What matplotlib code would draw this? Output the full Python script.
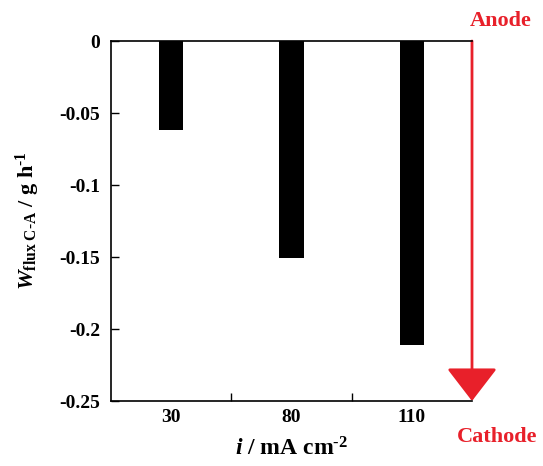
import matplotlib
matplotlib.use("Agg")
import matplotlib.pyplot as plt
from matplotlib.patches import FancyArrowPatch

plt.rcParams['font.family'] = ['Liberation Serif', 'DejaVu Serif']
plt.rcParams['font.weight'] = 'bold'
plt.rcParams['mathtext.fontset'] = 'custom'
plt.rcParams['mathtext.rm'] = 'Liberation Serif'
plt.rcParams['mathtext.it'] = 'Liberation Serif:italic'
plt.rcParams['mathtext.bf'] = 'Liberation Serif:bold'
plt.rcParams['mathtext.bfit'] = 'Liberation Serif:italic:bold'

categories = ['30', '80', '110']
values = [-0.062, -0.151, -0.211]
yticks = [0, -0.05, -0.1, -0.15, -0.2, -0.25]
ytick_labels = ['0', '-0.05', '-0.1', '-0.15', '-0.2', '-0.25']

fig = plt.figure(figsize=(5.43, 4.66), dpi=100)
ax = fig.add_axes([111/543, 1 - 401/466, (472 - 111)/543, 360/466])

x = list(range(len(categories)))
ax.bar(x, values, width=0.2, color='black')
ax.set_xlim(-0.5, 2.5)
ax.set_ylim(-0.25, 0)
ax.set_yticks(yticks)
ax.set_yticklabels(ytick_labels, fontsize=14, fontweight='bold')
ax.set_xticks(x)
ax.set_xticklabels(categories, fontsize=14, fontweight='bold')
ax.set_xticks([0.5, 1.5], minor=True)
ax.tick_params(axis='x', which='major', length=0, pad=6)
ax.tick_params(axis='x', which='minor', direction='in', length=6, width=1)
ax.tick_params(axis='y', direction='in', length=6, width=1, pad=8)
ax.spines['right'].set_visible(False)
for s in ['left', 'top', 'bottom']:
    ax.spines[s].set_linewidth(1.2)

ax.set_xlabel(r'$\mathbfit{i}$ / mA cm$^{\mathbf{\text{-}2}}$', fontsize=17, fontweight='bold', labelpad=8)
ax.set_ylabel(r'$\mathbfit{W}_{\mathrm{flux\ C\text{-}A}}$ / g h$^{\mathbf{\text{-}1}}$', fontsize=16, fontweight='bold', labelpad=12)

red = '#e8202a'
arrow = FancyArrowPatch((1.0, 1.0), (1.0, 0.0), transform=ax.transAxes,
                        arrowstyle='-|>,head_length=1.3,head_width=1.0', mutation_scale=16,
                        color=red, lw=2, clip_on=False, shrinkA=0, shrinkB=0)
ax.add_patch(arrow)
ax.text(1.08, 1.055, 'Anode', transform=ax.transAxes, color=red, fontsize=16,
        fontweight='bold', ha='center', va='center')
ax.text(1.07, -0.1, 'Cathode', transform=ax.transAxes, color=red, fontsize=16,
        fontweight='bold', ha='center', va='center')

fig.savefig('out.png', dpi=100)
